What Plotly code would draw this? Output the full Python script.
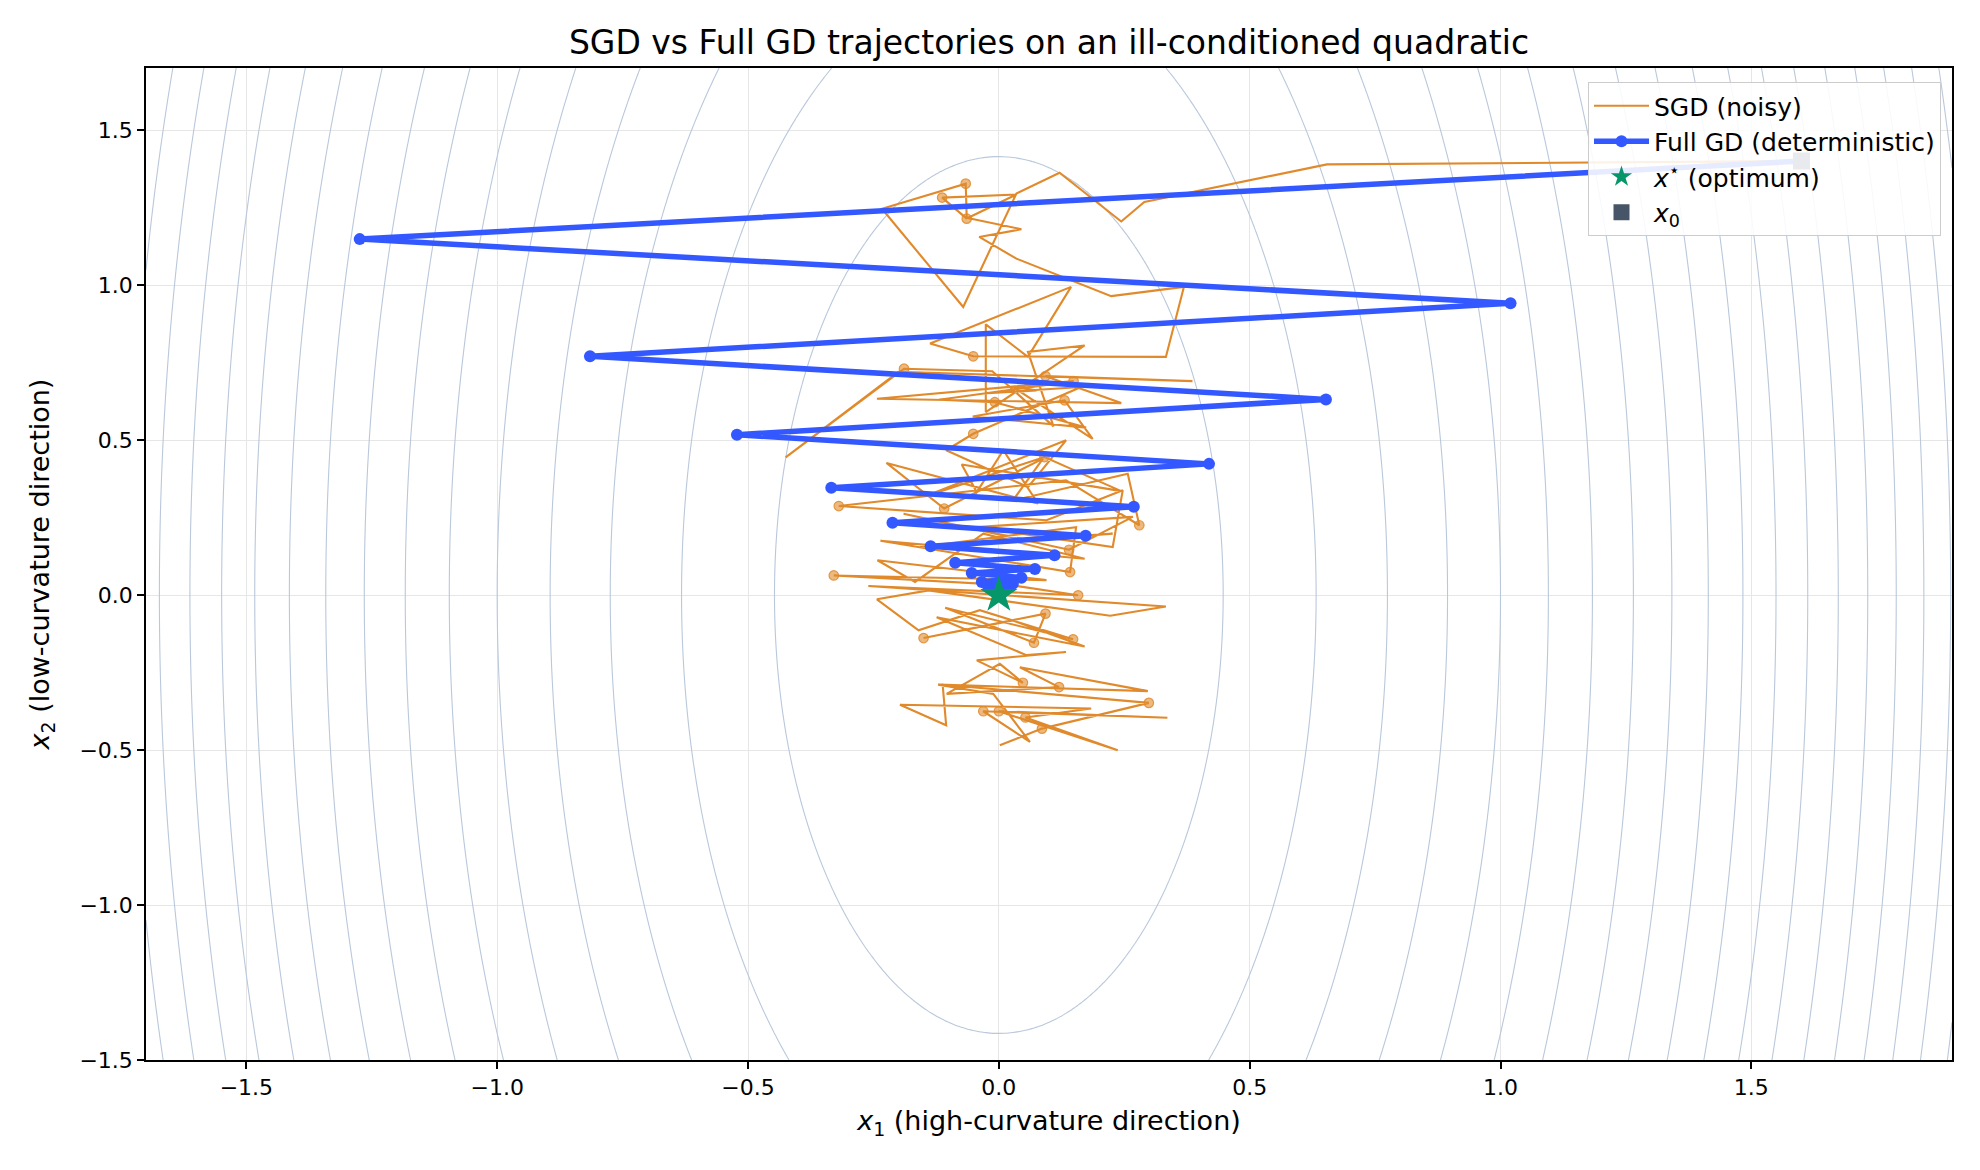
import numpy as np
import plotly.graph_objects as go

# ---------------- data ----------------
# quadratic f(x) = 0.5*(h1*x1^2 + h2*x2^2)
hess_diag = [10.0, 1.0]
contour_start, contour_end, contour_step = 1, 20, 1
x_range = [-1.7, 1.9]
y_range = [-1.5, 1.7]

x0 = [1.60, 1.40]
x_star = [0.0, 0.0]

gd_x = [1.600, -1.274, 1.020, -0.815, 0.652, -0.522, 0.419, -0.334, 0.269, -0.212,
        0.173, -0.136, 0.111, -0.087, 0.072, -0.054, 0.045, -0.034, 0.028, -0.022,
        0.018, -0.014, 0.011, -0.009, 0.007, -0.006, 0.005]
gd_y = [1.400, 1.148, 0.941, 0.770, 0.631, 0.517, 0.423, 0.346, 0.285, 0.233,
        0.191, 0.157, 0.128, 0.104, 0.084, 0.071, 0.056, 0.042, 0.036, 0.029,
        0.024, 0.020, 0.016, 0.013, 0.011, 0.009, 0.007]

sgd_x = [1.600, 0.654, 0.290, 0.244, 0.121, 0.035, -0.071, -0.233, -0.066, -0.064,
         -0.113, 0.035, -0.062, 0.045, -0.039, 0.035, 0.224, 0.369, 0.333, -0.051,
         -0.137, 0.144, 0.058, -0.026, -0.026, 0.171, 0.058, 0.109, -0.013, -0.189,
         -0.425, -0.200, 0.386, 0.093, 0.244, -0.243, 0.149, -0.119, -0.008, 0.174,
         -0.052, 0.131, 0.187, 0.028, 0.075, -0.031, 0.164, -0.051,
         -0.105, 0.058, 0.134, -0.150, 0.091, 0.244, -0.074, -0.044, 0.009, 0.078,
         -0.224, -0.109, 0.088, 0.028, 0.257, 0.280, 0.134, -0.038, -0.319, 0.095,
         0.247, 0.227, -0.044, 0.267, 0.140, -0.190, 0.058, 0.227, -0.157, 0.154,
         0.142, -0.236, 0.171, -0.031, -0.167, -0.242, 0.095, -0.329, 0.028, 0.158,
         -0.260, 0.333, 0.222, -0.140, -0.243,
         -0.160, -0.038, 0.148, -0.107, 0.070, 0.093, -0.150, 0.028, 0.171, -0.124,
         0.055, 0.134, -0.044, 0.048, 0.002, -0.104, 0.120, 0.042, 0.297, -0.121,
         -0.011, 0.062, -0.031, 0.336, 0.000, 0.237, 0.053, 0.184, -0.197, -0.105,
         -0.112, 0.299, 0.086, 0.002]
sgd_y = [1.400, 1.389, 1.268, 1.205, 1.362, 1.295, 0.929, 1.246, 1.327, 1.214,
         1.282, 1.292, 1.216, 1.180, 1.155, 1.085, 0.964, 0.994, 0.768, 0.770,
         0.811, 0.994, 0.768, 0.873, 0.590, 0.805, 0.784, 0.544, 0.722, 0.730,
         0.444, 0.720, 0.690, 0.706, 0.619, 0.633, 0.690, 0.630, 0.622, 0.540,
         0.576, 0.628, 0.504, 0.671, 0.660, 0.650, 0.671, 0.520,
         0.467, 0.348, 0.499, 0.316, 0.445, 0.335, 0.421, 0.332, 0.467, 0.295,
         0.426, 0.279, 0.440, 0.305, 0.391, 0.225, 0.370, 0.338, 0.287, 0.241,
         0.338, 0.155, 0.219, 0.252, 0.146, 0.262, 0.177, 0.198, 0.155, 0.219,
         0.074, 0.175, 0.117, 0.198, 0.042, 0.112, 0.048, 0.063, 0.031, -0.001,
         0.029, -0.037, -0.067, 0.015, -0.014,
         -0.114, -0.049, -0.143, -0.041, -0.154, -0.060, -0.139, -0.082, -0.166, -0.072,
         -0.194, -0.184, -0.211, -0.283, -0.222, -0.319, -0.297, -0.233, -0.310, -0.289,
         -0.319, -0.474, -0.375, -0.396, -0.375, -0.501, -0.395, -0.366, -0.354, -0.420,
         -0.289, -0.348, -0.431, -0.485]

# iterates that carry a marker dot
sgd_dot_x = [-0.066, -0.064, -0.113, -0.051, -0.189, 0.093, 0.149, -0.008, 0.131, -0.051,
             0.091, -0.109, 0.280, -0.319, 0.140, 0.142, -0.329, 0.158,
             0.148, 0.070, 0.093, -0.150, 0.048, 0.120, -0.031, 0.000, 0.053, 0.299, 0.086]
sgd_dot_y = [1.327, 1.214, 1.282, 0.770, 0.730, 0.706, 0.690, 0.622, 0.628, 0.520,
             0.445, 0.279, 0.225, 0.287, 0.146, 0.074, 0.063, -0.001,
             -0.143, -0.154, -0.060, -0.139, -0.283, -0.297, -0.375, -0.375, -0.395, -0.348, -0.431]

# ---------------- styles ----------------
FONT = "DejaVu Sans"
C_SGD = "#e08a2b"
C_GD = "#3358ff"
C_STAR = "#079669"
C_X0 = "#475569"
C_CONT = "#b9c8db"

xs = np.linspace(x_range[0], x_range[1], 401)
ys = np.linspace(y_range[0], y_range[1], 361)
X, Y = np.meshgrid(xs, ys)
Z = 0.5 * (hess_diag[0] * X ** 2 + hess_diag[1] * Y ** 2)

fig = go.Figure()

fig.add_trace(go.Contour(
    x=xs, y=ys, z=Z,
    contours=dict(coloring="lines", start=contour_start, end=contour_end, size=contour_step),
    colorscale=[[0, C_CONT], [1, C_CONT]],
    showscale=False, line=dict(width=1.1), hoverinfo="skip", showlegend=False,
))

fig.add_trace(go.Scatter(
    x=sgd_x, y=sgd_y, mode="lines", name="SGD (noisy)",
    line=dict(color=C_SGD, width=2.1),
))

fig.add_trace(go.Scatter(
    x=sgd_dot_x, y=sgd_dot_y, mode="markers", showlegend=False,
    marker=dict(color="rgba(224,138,43,0.6)", size=9.5,
                line=dict(color="rgba(224,138,43,0.85)", width=1.2)),
))

fig.add_trace(go.Scatter(
    x=gd_x, y=gd_y, mode="lines+markers", name="Full GD (deterministic)",
    line=dict(color=C_GD, width=5.5), marker=dict(color=C_GD, size=12),
))

fig.add_trace(go.Scatter(
    x=[x_star[0]], y=[x_star[1]], mode="markers",
    name="<i>x</i><sup>⋆</sup> (optimum)",
    marker=dict(symbol="star", color=C_STAR, size=28),
))

fig.add_trace(go.Scatter(
    x=[x0[0]], y=[x0[1]], mode="markers", name="<i>x</i><sub>0</sub>",
    marker=dict(symbol="square", color=C_X0, size=17),
))

axis_common = dict(
    showline=True, linecolor="black", linewidth=1.6, mirror=True,
    ticks="outside", ticklen=7, tickwidth=1.6, tickcolor="black",
    showgrid=True, gridcolor="#e6e6e6", gridwidth=1.2, zeroline=False,
    tickfont=dict(family=FONT, size=22, color="black"),
    dtick=0.5, tick0=0, tickformat=".1f",
)

fig.update_layout(
    width=1980, height=1170,
    margin=dict(l=146, r=28, t=68, b=110),
    paper_bgcolor="white", plot_bgcolor="white",
    font=dict(family=FONT, color="black"),
    title=dict(text="SGD vs Full GD trajectories on an ill-conditioned quadratic",
               x=0.5, xref="paper", xanchor="center",
               y=1 - 42 / 1170, yanchor="middle",
               font=dict(family=FONT, size=33, color="black")),
    xaxis=dict(range=x_range, **axis_common,
               title=dict(text="<i>x</i><sub>1</sub> (high-curvature direction)",
                          font=dict(family=FONT, size=27), standoff=12)),
    yaxis=dict(range=y_range, **axis_common,
               title=dict(text="<i>x</i><sub>2</sub> (low-curvature direction)",
                          font=dict(family=FONT, size=27), standoff=22)),
    legend=dict(x=1 - 11 / 1806, y=1 - 14 / 992, xanchor="right", yanchor="top",
                bgcolor="rgba(255,255,255,0.88)", bordercolor="#cccccc", borderwidth=1,
                font=dict(family=FONT, size=25, color="black"),
                itemwidth=55, tracegroupgap=0),
    showlegend=True,
)

fig.write_html("out.html")
